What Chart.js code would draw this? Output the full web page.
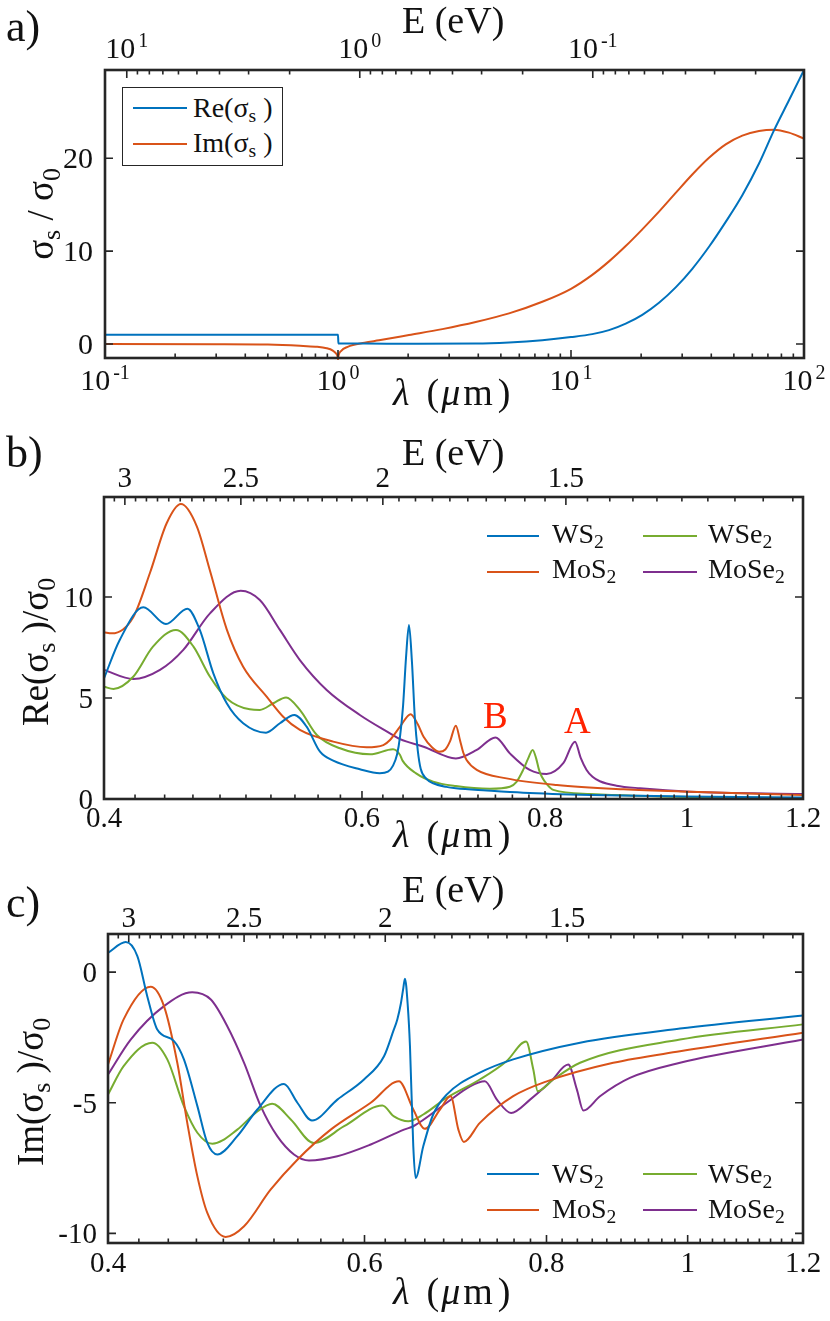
<!DOCTYPE html>
<html><head><meta charset="utf-8">
<script src="https://cdn.jsdelivr.net/npm/chart.js@4.4.1/dist/chart.umd.min.js"></script>
<style>
html,body{margin:0;padding:0;background:#fff}
#wrap{position:relative;width:830px;height:1321px;overflow:hidden;font-family:"Liberation Serif","Times New Roman","DejaVu Serif",serif;color:#111}
canvas{position:absolute;left:0}
.tx{position:absolute;white-space:nowrap;line-height:1}
.sb{font-size:0.7em;position:relative;top:0.28em}
.lg{position:absolute;height:0;border-top:2px solid}
.box{position:absolute;box-sizing:border-box;border:1.5px solid #262626;background:#fff}
</style></head><body><div id="wrap">
<canvas id="ca" width="830" height="400" style="top:0;width:830px;height:400px"></canvas>
<canvas id="cb" width="830" height="460" style="top:400px;width:830px;height:460px"></canvas>
<canvas id="cc" width="830" height="461" style="top:860px;width:830px;height:461px"></canvas>
</div>
<script>
// ---------- Panel a : graphene sigma_s / sigma_0 vs lambda (um) ----------
const aReLam = [0.1, 0.3, 0.6, 0.9, 1.0, 1.004, 1.3, 2.017, 3.9, 5.42, 7.53, 10, 12.34, 14.56, 17.17, 20.23, 23.86, 28.14, 33.16, 39.11, 46.13, 54.36, 64.11, 74.33, 86.21, 100];
const aRe    = [1.0, 1.0, 1.0, 1.0, 1.0, 0.06, 0.05, 0.04, 0.06, 0.18, 0.42, 0.75, 1.07, 1.5, 2.2, 3.15, 4.45, 6.1, 8.1, 10.47, 13.15, 16.02, 19.43, 23.0, 26.24, 29.5];
const aImLam = [0.1, 0.3, 0.5, 0.687, 0.8, 0.894, 0.95, 0.98, 0.995, 1.0, 1.006, 1.03, 1.1, 1.3, 1.5, 2.017, 2.804, 3.9, 5.42, 7.53, 10, 12.34, 14.56, 17.17, 20.23, 23.86, 28.14, 33.16, 39.11, 46.13, 54.36, 64.11, 74.33, 86.21, 100];
const aIm    = [0, -0.01, -0.05, -0.18, -0.28, -0.45, -0.7, -1.0, -1.3, -1.65, -1.2, -0.75, -0.3, 0.14, 0.4, 0.97, 1.61, 2.37, 3.3, 4.55, 5.95, 7.45, 8.9, 10.55, 12.35, 14.25, 16.27, 18.25, 20.05, 21.5, 22.44, 22.94, 23.08, 22.76, 22.11];
const aXTickVals = [0.1, 1, 10, 100];
const aXTickExp  = ['-1', '0', '1', '2'];
const aETickVals = [10, 1, 0.1];
const aETickExp  = ['1', '0', '-1'];
const aYTickVals = [0, 10, 20];
const aYTickText = ['0', '10', '20'];

// ---------- Panel b : Re(sigma_s)/sigma_0 ----------
const bWS2Lam = [0.4, 0.41, 0.4255, 0.4409, 0.456, 0.465, 0.475, 0.4851, 0.4978, 0.516, 0.5274, 0.5395, 0.55, 0.5617, 0.5735, 0.598, 0.617, 0.625, 0.63, 0.634, 0.637, 0.64, 0.643, 0.646, 0.649, 0.652, 0.655, 0.658, 0.664, 0.671, 0.685, 0.6954, 0.73, 0.773, 0.859, 1.0, 1.2];
const bWS2    = [5.97, 7.87, 9.49, 8.66, 9.42, 8.37, 6.22, 4.74, 3.75, 3.28, 3.75, 4.16, 3.58, 2.34, 1.9, 1.47, 1.27, 1.35, 1.65, 2.2, 3.1, 4.6, 7.0, 8.61, 6.8, 4.0, 2.4, 1.5, 1.0, 0.78, 0.6, 0.53, 0.42, 0.31, 0.2, 0.12, 0.08];
const bMoS2Lam = [0.4, 0.405, 0.4188, 0.43, 0.4414, 0.4514, 0.4628, 0.4725, 0.4851, 0.4978, 0.5165, 0.5301, 0.5442, 0.5735, 0.6044, 0.6205, 0.627, 0.637, 0.6477, 0.655, 0.661, 0.67, 0.6775, 0.684, 0.689, 0.6954, 0.7, 0.7035, 0.7072, 0.7186, 0.753, 0.815, 0.905, 1.005, 1.2];
const bMoS2    = [8.25, 8.2, 9.0, 11.2, 13.65, 14.6, 13.5, 11.3, 8.4, 6.55, 5.07, 4.07, 3.42, 2.84, 2.56, 2.67, 2.92, 3.58, 4.2, 3.7, 3.08, 2.55, 2.34, 2.45, 2.85, 3.63, 2.9, 2.3, 1.93, 1.44, 1.02, 0.69, 0.48, 0.36, 0.2];
const bWSe2Lam = [0.4, 0.406, 0.4188, 0.432, 0.4479, 0.4604, 0.4725, 0.4851, 0.503, 0.511, 0.522, 0.5325, 0.5442, 0.5589, 0.5796, 0.6077, 0.63, 0.637, 0.6395, 0.6533, 0.671, 0.6954, 0.7336, 0.757, 0.765, 0.773, 0.779, 0.7846, 0.789, 0.7925, 0.796, 0.803, 0.8105, 0.859, 1.0, 1.2];
const bWSe2    = [5.56, 5.45, 6.05, 7.54, 8.37, 7.54, 6.05, 4.98, 4.44, 4.41, 4.74, 5.03, 4.41, 3.17, 2.51, 2.21, 2.46, 2.18, 1.9, 1.27, 0.86, 0.64, 0.51, 0.61, 0.85, 1.44, 2.0, 2.43, 2.0, 1.44, 1.1, 0.7, 0.45, 0.25, 0.1, 0.05];
const bMoSe2Lam = [0.4, 0.4188, 0.4368, 0.4531, 0.4725, 0.4959, 0.511, 0.5274, 0.5442, 0.5676, 0.598, 0.627, 0.637, 0.661, 0.6954, 0.7186, 0.74, 0.757, 0.781, 0.802, 0.8233, 0.8386, 0.846, 0.854, 0.862, 0.872, 0.895, 0.9288, 1.005, 1.2];
const bMoSe2    = [6.39, 5.94, 6.39, 7.38, 9.19, 10.31, 9.85, 8.37, 6.88, 5.4, 4.16, 3.25, 2.96, 2.59, 2.01, 2.43, 3.05, 2.26, 1.44, 1.24, 1.77, 2.84, 2.05, 1.44, 1.1, 0.88, 0.66, 0.53, 0.36, 0.25];
const bXTickVals = [0.4, 0.6, 0.8, 1, 1.2];
const bXTickText = ['0.4', '0.6', '0.8', '1', '1.2'];
const bETickVals = [3, 2.5, 2, 1.5];
const bETickText = ['3', '2.5', '2', '1.5'];
const bYTickVals = [0, 5, 10];
const bYTickText = ['0', '5', '10'];

// ---------- Panel c : Im(sigma_s)/sigma_0 ----------
const cWS2Lam = [0.4, 0.4114, 0.419, 0.4256, 0.4324, 0.444, 0.451, 0.4607, 0.468, 0.4754, 0.4907, 0.5065, 0.5283, 0.5396, 0.5522, 0.5748, 0.5995, 0.6188, 0.628, 0.632, 0.6355, 0.638, 0.6396, 0.6425, 0.6447, 0.6481, 0.6505, 0.6584, 0.6688, 0.6832, 0.72, 0.759, 0.8436, 0.988, 1.2];
const cWS2    = [0.74, 1.15, 0.61, -0.92, -2.2, -2.64, -3.34, -5.13, -6.54, -6.98, -6.28, -5.26, -4.28, -5.0, -5.68, -4.88, -4.11, -3.22, -2.25, -1.8, -1.2, -0.6, -0.25, -1.3, -2.83, -6.67, -7.88, -6.67, -5.45, -4.69, -3.85, -3.34, -2.7, -2.16, -1.66];
const cMoS2Lam = [0.4, 0.41, 0.4279, 0.437, 0.4463, 0.4534, 0.4607, 0.468, 0.4818, 0.496, 0.5172, 0.5396, 0.5688, 0.6059, 0.6336, 0.6481, 0.66, 0.676, 0.6875, 0.696, 0.702, 0.72, 0.759, 0.8004, 0.889, 0.988, 1.2];
const cMoS2    = [-3.54, -1.81, -0.56, -1.3, -3.47, -5.77, -7.82, -9.22, -10.14, -9.73, -8.33, -7.18, -6.03, -5.0, -4.18, -5.26, -6.0, -5.26, -4.75, -6.03, -6.5, -5.77, -4.75, -4.18, -3.47, -3.03, -2.32];
const cWSe2Lam = [0.4, 0.41, 0.429, 0.4393, 0.451, 0.4607, 0.4717, 0.4907, 0.5065, 0.5185, 0.534, 0.5537, 0.581, 0.6172, 0.6286, 0.643, 0.6584, 0.6832, 0.72, 0.751, 0.7746, 0.7835, 0.789, 0.8086, 0.8436, 0.988, 1.2];
const cWSe2    = [-4.69, -3.6, -2.7, -3.34, -5.13, -6.15, -6.57, -6.03, -5.33, -5.04, -5.64, -6.54, -5.9, -5.11, -5.52, -5.71, -5.45, -4.81, -4.11, -3.41, -2.66, -3.73, -4.56, -4.11, -3.47, -2.58, -2.0];
const cMoSe2Lam = [0.4, 0.4146, 0.437, 0.457, 0.4706, 0.483, 0.496, 0.5092, 0.5227, 0.5367, 0.5496, 0.5748, 0.6059, 0.6386, 0.6481, 0.6832, 0.709, 0.7257, 0.7397, 0.7564, 0.7795, 0.8057, 0.828, 0.8393, 0.848, 0.8706, 0.9127, 0.988, 1.2];
const cMoSe2    = [-3.92, -2.58, -1.3, -0.77, -1.05, -2.07, -3.47, -5.13, -6.28, -6.98, -7.21, -7.05, -6.6, -6.03, -5.9, -5.0, -4.37, -4.18, -4.88, -5.39, -4.88, -4.18, -3.54, -4.49, -5.3, -4.75, -4.05, -3.47, -2.58];
const cYTickVals = [-10, -5, 0];
const cYTickText = ['-10', '-5', '0'];

const COLORS = { WS2: '#0072BD', MoS2: '#D95319', WSe2: '#77AC30', MoSe2: '#7E2F8E' };

// minor tick positions (axis decoration only)
const aXMinor = []; for (const k of [-1, 0, 1]) for (let m = 2; m <= 9; m++) aXMinor.push(m * Math.pow(10, k));
const aEMinor = []; for (const k of [-2, -1, 0]) for (let m = 2; m <= 9; m++) aEMinor.push(m * Math.pow(10, k));
const bXMinor = []; for (let i = 21; i <= 59; i++) if (i % 10 !== 0) bXMinor.push(i * 0.02);
const bEMinor = []; for (let i = 21; i <= 61; i++) if (i % 10 !== 0) bEMinor.push(i * 0.05);

const FONT = '"Liberation Serif","Times New Roman","DejaVu Serif",serif';
const pts = (xs, ys) => xs.map((x, i) => ({ x, y: ys[i] }));
const ds = (label, xs, ys, color) => ({ label, data: pts(xs, ys), borderColor: color, backgroundColor: color, borderWidth: 2, pointRadius: 0, fill: false, cubicInterpolationMode: 'monotone', xAxisID: 'x', yAxisID: 'y', clip: 2 });

function drawLab(ctx, x, y, base, exp, fs, align) {
  ctx.font = fs + 'px ' + FONT;
  const wb = ctx.measureText(base).width;
  const efs = Math.round(fs * 0.68);
  let we = 0;
  if (exp) { ctx.font = efs + 'px ' + FONT; we = ctx.measureText(exp).width + 3; }
  let x0 = x;
  if (align === 'center') x0 = x - (wb + we) / 2;
  else if (align === 'right') x0 = x - wb - we;
  ctx.textAlign = 'left'; ctx.textBaseline = 'alphabetic';
  ctx.font = fs + 'px ' + FONT; ctx.fillText(base, x0, y);
  if (exp) { ctx.font = efs + 'px ' + FONT; ctx.fillText(exp, x0 + wb + 3, y - fs * 0.36); }
}

function drawFrame(chart, s) {
  const ctx = chart.ctx, a = chart.chartArea;
  const xs = chart.scales.x, ys = chart.scales.y, ts = chart.scales.x2;
  ctx.save();
  ctx.strokeStyle = '#262626'; ctx.lineWidth = 1.6; ctx.lineCap = 'butt';
  ctx.beginPath();
  s.yTicks.forEach(v => { const y = ys.getPixelForValue(v); ctx.moveTo(a.left, y); ctx.lineTo(a.left + 8, y); ctx.moveTo(a.right, y); ctx.lineTo(a.right - 8, y); });
  s.xTicks.forEach(v => { const x = xs.getPixelForValue(v); ctx.moveTo(x, a.bottom); ctx.lineTo(x, a.bottom - 8); });
  s.xMinor.forEach(v => { if (v <= xs.min || v >= xs.max) return; const x = xs.getPixelForValue(v); ctx.moveTo(x, a.bottom); ctx.lineTo(x, a.bottom - 4.5); });
  s.eTicks.forEach(v => { const x = ts.getPixelForValue(v); ctx.moveTo(x, a.top); ctx.lineTo(x, a.top + 8); });
  s.eMinor.forEach(v => { if (v <= ts.min || v >= ts.max) return; const x = ts.getPixelForValue(v); ctx.moveTo(x, a.top); ctx.lineTo(x, a.top + 4.5); });
  ctx.stroke();
  ctx.lineWidth = 2.6;
  ctx.strokeRect(a.left, a.top, a.right - a.left, a.bottom - a.top);
  ctx.fillStyle = '#111';
  s.yTicks.forEach((v, i) => drawLab(ctx, a.left - s.yGap, ys.getPixelForValue(v) + s.fs * 0.34, s.yText[i], null, s.fs, 'right'));
  s.xTicks.forEach((v, i) => drawLab(ctx, xs.getPixelForValue(v), a.bottom + s.xBase, s.xText[i], s.xExp ? s.xExp[i] : null, s.fs, 'center'));
  s.eTicks.forEach((v, i) => drawLab(ctx, ts.getPixelForValue(v), a.top - s.eBase, s.eText[i], s.eExp ? s.eExp[i] : null, s.fs, 'center'));
  ctx.restore();
}

function makeChart(id, cTop, cH, area, xr, yr, er, datasets, spec) {
  return new Chart(document.getElementById(id), {
    type: 'line',
    data: { datasets },
    options: {
      responsive: false, maintainAspectRatio: false, animation: false,
      layout: { padding: { left: 0, top: 0, bottom: 0, right: 830 - area.right } },
      plugins: { legend: { display: false }, tooltip: { enabled: false } },
      scales: {
        x: { type: 'logarithmic', position: 'bottom', min: xr[0], max: xr[1], grid: { display: false, drawTicks: false }, border: { display: false }, ticks: { display: false },
             afterFit: s => { s.height = cH - (area.bottom - cTop); s.paddingLeft = 0; s.paddingRight = 0; } },
        x2: { type: 'logarithmic', position: 'top', reverse: true, min: er[0], max: er[1], grid: { display: false, drawTicks: false }, border: { display: false }, ticks: { display: false },
             afterFit: s => { s.height = area.top - cTop; s.paddingLeft = 0; s.paddingRight = 0; } },
        y: { type: 'linear', position: 'left', min: yr[0], max: yr[1], grid: { display: false, drawTicks: false }, border: { display: false }, ticks: { display: false },
             afterFit: s => { s.width = area.left; s.paddingTop = 0; s.paddingBottom = 0; } }
      }
    },
    plugins: [{ id: 'frame_' + id, afterDraw: c => drawFrame(c, spec) }]
  });
}

// Panel a
makeChart('ca', 0, 400, { left: 105, top: 70, right: 804, bottom: 358 }, [0.1, 100], [-1.5, 29.5], [1.24 / 100, 1.24 / 0.1],
  [ds('Re', aReLam, aRe, COLORS.WS2), ds('Im', aImLam, aIm, COLORS.MoS2)],
  { yTicks: aYTickVals, yText: aYTickText, xTicks: aXTickVals, xText: aXTickVals.map(() => '10'), xExp: aXTickExp, xMinor: aXMinor,
    eTicks: aETickVals, eText: aETickVals.map(() => '10'), eExp: aETickExp, eMinor: aEMinor, fs: 30, yGap: 12, xBase: 32, eBase: 12 });

// Panel b
makeChart('cb', 400, 460, { left: 104, top: 497, right: 803, bottom: 799 }, [0.4, 1.2], [0, 14.95], [1.24 / 1.2, 1.24 / 0.4],
  [ds('WS2', bWS2Lam, bWS2, COLORS.WS2), ds('MoS2', bMoS2Lam, bMoS2, COLORS.MoS2), ds('WSe2', bWSe2Lam, bWSe2, COLORS.WSe2), ds('MoSe2', bMoSe2Lam, bMoSe2, COLORS.MoSe2)],
  { yTicks: bYTickVals, yText: bYTickText, xTicks: bXTickVals, xText: bXTickText, xMinor: bXMinor,
    eTicks: bETickVals, eText: bETickText, eMinor: bEMinor, fs: 29, yGap: 11, xBase: 28, eBase: 10 });

// Panel c
makeChart('cc', 860, 461, { left: 108, top: 934, right: 803, bottom: 1243 }, [0.4, 1.2], [-10.37, 1.46], [1.24 / 1.2, 1.24 / 0.4],
  [ds('WS2', cWS2Lam, cWS2, COLORS.WS2), ds('MoS2', cMoS2Lam, cMoS2, COLORS.MoS2), ds('WSe2', cWSe2Lam, cWSe2, COLORS.WSe2), ds('MoSe2', cMoSe2Lam, cMoSe2, COLORS.MoSe2)],
  { yTicks: cYTickVals, yText: cYTickText, xTicks: bXTickVals, xText: bXTickText, xMinor: bXMinor,
    eTicks: bETickVals, eText: bETickText, eMinor: bEMinor, fs: 29, yGap: 11, xBase: 29, eBase: 7 });

// ---------- text overlays ----------
const wrap = document.getElementById('wrap');
function txt(html, x, base, fs, o = {}) {
  const d = document.createElement('div'); d.className = 'tx'; d.innerHTML = html;
  d.style.fontSize = fs + 'px'; d.style.top = (base - 0.8375 * fs) + 'px'; d.style.left = x + 'px';
  if (o.center) d.style.transform = 'translateX(-50%)';
  if (o.color) d.style.color = o.color;
  wrap.appendChild(d); return d;
}
function vtxt(html, cx, cy, fs) {
  const d = document.createElement('div'); d.className = 'tx'; d.innerHTML = html;
  d.style.fontSize = fs + 'px'; d.style.left = cx + 'px'; d.style.top = cy + 'px';
  d.style.transform = 'translate(-50%,-50%) rotate(-90deg)';
  wrap.appendChild(d); return d;
}
function line(x1, x2, y, color) {
  const d = document.createElement('div'); d.className = 'lg';
  d.style.left = x1 + 'px'; d.style.width = (x2 - x1) + 'px'; d.style.top = (y - 1) + 'px'; d.style.borderTopColor = color;
  wrap.appendChild(d);
}
const sub = t => '<span class="sb">' + t + '</span>';
const lamLabel = '<i>λ</i><span style="margin-left:17px">(</span><i style="margin-left:2px;margin-right:3px">μ</i>m<span style="margin-left:5px">)</span>';

// panel labels
txt('a)', 6, 42, 44); txt('b)', 6, 468, 44); txt('c)', 6, 918, 44);
// top axis titles
txt('E (eV)', 402, 33, 38); txt('E (eV)', 402, 465, 38); txt('E (eV)', 402, 902, 38);
// bottom axis titles
txt(lamLabel, 393, 405, 38); txt(lamLabel, 393, 847, 38); txt(lamLabel, 393, 1304, 38);
// y titles
vtxt('σ' + sub('s') + ' / σ' + sub('0'), 40, 214, 37);
vtxt('Re(σ' + sub('s') + ' )/σ' + sub('0'), 35, 652, 37);
vtxt('Im(σ' + sub('s') + ' )/σ' + sub('0'), 30, 1092, 37);

// legend a
const bx = document.createElement('div'); bx.className = 'box';
bx.style.left = '122px'; bx.style.top = '87px'; bx.style.width = '161px'; bx.style.height = '79px'; wrap.appendChild(bx);
line(133, 187, 108, COLORS.WS2); txt('Re(σ' + sub('s') + ' )', 193, 117, 28);
line(133, 187, 144, COLORS.MoS2); txt('Im(σ' + sub('s') + ' )', 193, 152, 28);

// legends b & c
function legend4(y1, y2, b1, b2) {
  line(487, 539, y1, COLORS.WS2); txt('WS' + sub('2'), 552, b1, 28);
  line(643, 697, y1, COLORS.WSe2); txt('WSe' + sub('2'), 708, b1, 28);
  line(487, 539, y2, COLORS.MoS2); txt('MoS' + sub('2'), 552, b2, 28);
  line(643, 697, y2, COLORS.MoSe2); txt('MoSe' + sub('2'), 708, b2, 28);
}
legend4(536, 572, 543, 578);
legend4(1174, 1210, 1183, 1218);

// exciton annotations
txt('B', 483, 728, 37, { color: '#ff2200' });
txt('A', 564, 733, 37, { color: '#ff2200' });
</script></body></html>
